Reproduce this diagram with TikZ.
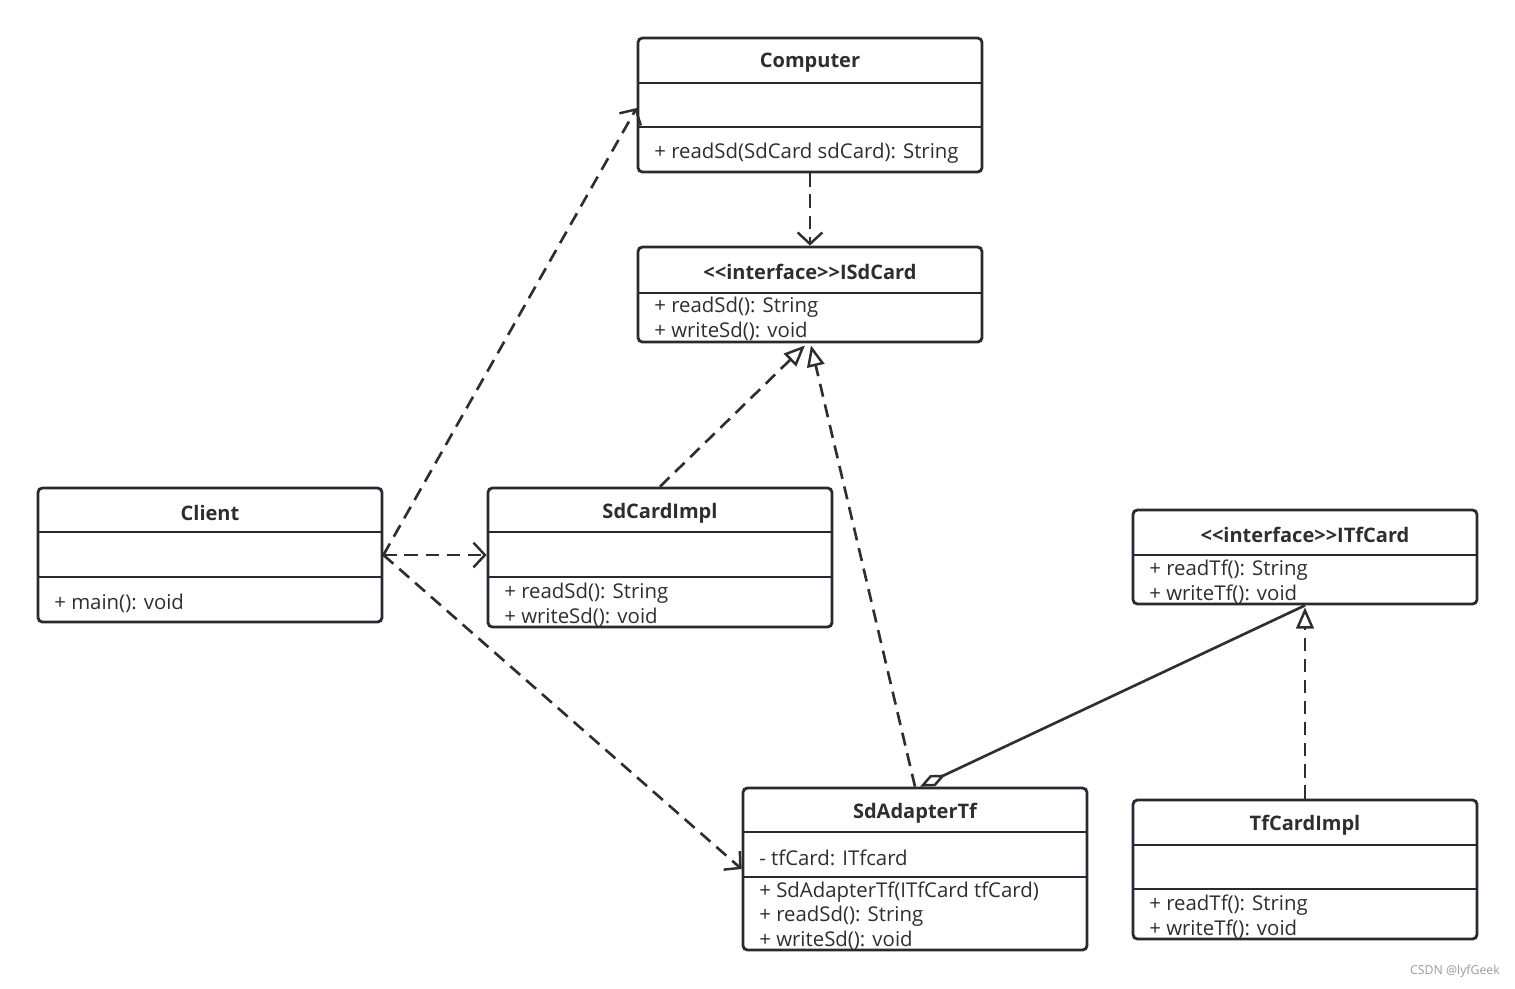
\documentclass[tikz,border=0pt]{standalone}
\usepackage{fontspec}
\setmainfont{Open Sans}
\usetikzlibrary{arrows.meta,fit,calc}
\definecolor{umlline}{HTML}{262B33}
\definecolor{umltext}{HTML}{2E2E2E}
\definecolor{markgray}{HTML}{9A9A9A}
\tikzset{
  classbox/.style={draw=umlline, line width=1.6pt, rounded corners=2.5pt, inner sep=0pt},
  classline/.style={draw=umlline, line width=1.6pt},
  classname/.style={font=\fontsize{11.4}{13}\selectfont\bfseries, text=umltext, inner sep=0pt},
  member/.style={anchor=west, font=\fontsize{11.6}{13}\selectfont, text=umltext, inner sep=0pt},
  dep/.style={draw=umltext, line width=1.5pt, dash pattern=on 7.5pt off 4.5pt, -{Straight Barb[length=6.5pt,width=14pt,line width=1.4pt]}},
  realize/.style={draw=umltext, line width=1.5pt, dash pattern=on 7.5pt off 4.5pt, -{Triangle[open,length=12pt,width=10pt,line width=1.4pt]}},
  aggr/.style={draw=umltext, line width=1.5pt, {Diamond[open,length=16pt,width=7pt,line width=1.4pt]}-},
}
\begin{document}
\begin{tikzpicture}[x=0.02cm, y=-0.02cm]
\useasboundingbox (0,0) rectangle (1515,988);

\def \xleft {38}
\def \xmid  {488}
\def \xcomp {638}
\def \xadap {743}
\def \xtf   {1133}
\def \wide  {344}

% computer
\node [classbox, fit={(\xcomp,38) (\xcomp+\wide,172)}] (computer) {};
\draw [classline] (\xcomp,83) -- (\xcomp+\wide,83);
\draw [classline] (\xcomp,127) -- (\xcomp+\wide,127);
\node [classname] (computer-name) at (computer.north |- 0,63) {Computer};
\node [member] (computer-m1) at (\xcomp+16,153) {+ readSd(SdCard sdCard): String};

% isdcard
\node [classbox, fit={(\xcomp,247) (\xcomp+\wide,342)}] (isdcard) {};
\draw [classline] (\xcomp,293) -- (\xcomp+\wide,293);
\node [classname] (isdcard-name) at (isdcard.north |- 0,272) {<{}<interface>{}>ISdCard};
\node [member] (isdcard-m1) at (\xcomp+16,307) {+ readSd(): String};
\node [member] (isdcard-m2) at (\xcomp+16,331) {+ writeSd(): void};

% client
\node [classbox, fit={(\xleft,488) (\xleft+\wide,622)}] (client) {};
\draw [classline] (\xleft,532) -- (\xleft+\wide,532);
\draw [classline] (\xleft,577) -- (\xleft+\wide,577);
\node [classname] (client-name) at (client.north |- 0,513) {Client};
\node [member] (client-m1) at (\xleft+16,603) {+ main(): void};

% sdcardimpl
\node [classbox, fit={(\xmid,488) (\xmid+\wide,627)}] (sdimpl) {};
\draw [classline] (\xmid,532) -- (\xmid+\wide,532);
\draw [classline] (\xmid,577) -- (\xmid+\wide,577);
\node [classname] (sdimpl-name) at (sdimpl.north |- 0,513) {SdCardImpl};
\node [member] (sdimpl-m1) at (\xmid+16,593) {+ readSd(): String};
\node [member] (sdimpl-m2) at (\xmid+16,617) {+ writeSd(): void};

% itfcard
\node [classbox, fit={(\xtf,510) (\xtf+\wide,604)}] (itfcard) {};
\draw [classline] (\xtf,555) -- (\xtf+\wide,555);
\node [classname] (itfcard-name) at (itfcard.north |- 0,535) {<{}<interface>{}>ITfCard};
\node [member] (itfcard-m1) at (\xtf+16,570) {+ readTf(): String};
\node [member] (itfcard-m2) at (\xtf+16,594) {+ writeTf(): void};

% sdadaptertf
\node [classbox, fit={(\xadap,788) (\xadap+\wide,950)}] (adapter) {};
\draw [classline] (\xadap,832) -- (\xadap+\wide,832);
\draw [classline] (\xadap,877) -- (\xadap+\wide,877);
\node [classname] (adapter-name) at (adapter.north |- 0,813) {SdAdapterTf};
\node [member] (adapter-a1) at (\xadap+16,858) {- tfCard: ITfcard};
\node [member] (adapter-m1) at (\xadap+16,892) {+ SdAdapterTf(ITfCard tfCard)};
\node [member] (adapter-m2) at (\xadap+16,916) {+ readSd(): String};
\node [member] (adapter-m3) at (\xadap+16,940) {+ writeSd(): void};

% tfcardimpl
\node [classbox, fit={(\xtf,800) (\xtf+\wide,939)}] (tfimpl) {};
\draw [classline] (\xtf,845) -- (\xtf+\wide,845);
\draw [classline] (\xtf,889) -- (\xtf+\wide,889);
\node [classname] (tfimpl-name) at (tfimpl.north |- 0,825) {TfCardImpl};
\node [member] (tfimpl-m1) at (\xtf+16,905) {+ readTf(): String};
\node [member] (tfimpl-m2) at (\xtf+16,929) {+ writeTf(): void};

% dependencies
\draw [dep] (client.east) -- ($(computer.west)+(0,3)$);
\draw [dep] (client.east) -- (sdimpl.west |- client.east);
\draw [dep] (client.east) -- (adapter.west);
\draw [dep] (computer.south) -- (isdcard.north);

% realizations
\draw [realize] (sdimpl.north) -- ($(isdcard.south)+(-5,2)$);
\draw [realize] (adapter.north) -- ($(isdcard.south)+(1,2)$);
\draw [realize] (tfimpl.north) -- ($(itfcard.south)+(0,2)$);

% aggregation
\draw [aggr] ($(adapter.north)+(5,0)$) -- (itfcard.south);

% watermark
\node [font=\fontsize{7}{8}\selectfont, text=markgray, inner sep=0pt] (mark) at (1455,971) {CSDN @lyfGeek};
\end{tikzpicture}
\end{document}
